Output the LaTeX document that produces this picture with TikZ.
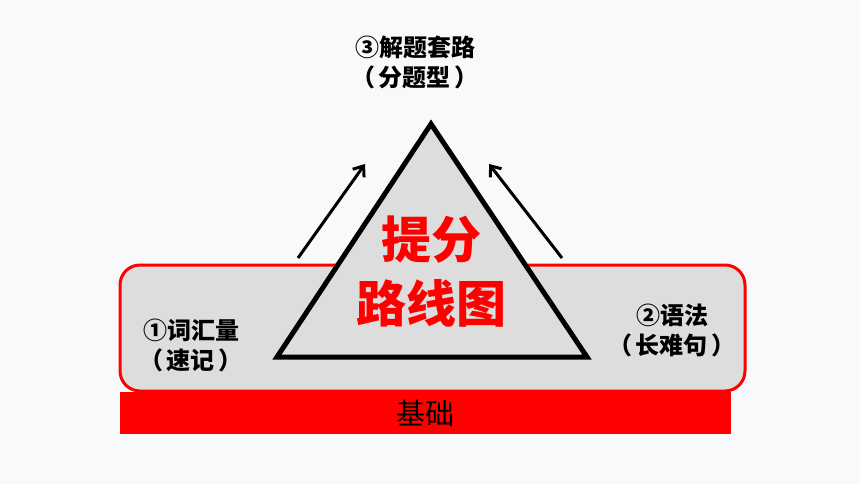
\documentclass[tikz,border=0pt]{standalone}
\usepackage{fontspec}
\usetikzlibrary{arrows.meta, positioning}
\newfontfamily\cjk{Noto Sans CJK SC}
\definecolor{mybg}{RGB}{248,249,250}
\definecolor{mygray}{RGB}{221,221,221}
\definecolor{myred}{RGB}{255,0,0}
\newcommand{\pgap}{\hspace{4pt}}

\begin{document}
\begin{tikzpicture}[x=1pt,y=-1pt,
    label/.style={align=center,font=\cjk\bfseries\fontsize{24}{30}\selectfont,inner sep=0pt},
    uparrow/.style={-{Straight Barb[length=9pt,width=14pt,line width=3pt]},line width=3pt}]
    % canvas
    \fill[mybg] (0,0) rectangle (860,484);
    \useasboundingbox (0,0) rectangle (860,484);
    % base bar and platform
    \node[fill=myred,minimum width=611pt,minimum height=42pt,inner sep=0pt,anchor=north west,
          font=\cjk\fontsize{29}{30}\selectfont] (base) at (120,392) {基础};
    \draw[myred,line width=3pt,fill=mygray,rounded corners=20pt] (120,265) rectangle (745,391);
    % triangle
    \coordinate (top) at (431,124);
    \coordinate (left) at (277,357);
    \coordinate (right) at (587,357);
    \draw[line width=5pt,fill=mygray,line join=miter] (left) -- (top) -- (right) -- cycle;
    % arrows
    \coordinate (la) at (298,258);
    \coordinate (lb) at (365,164);
    \coordinate (ra) at (562,258);
    \coordinate (rb) at (489,164);
    \draw[uparrow] (la) -- (lb);
    \draw[uparrow] (ra) -- (rb);
    % labels
    \node[label] (goal) at (415,62) {③解题套路\\（\pgap 分题型\pgap ）};
    \node[label] (vocab) at (191,345) {①词汇量\\（\pgap 速记\pgap ）};
    \node[label] (grammar) at (672,330) {②语法\\（\pgap 长难句\pgap ）};
    \node[label,text=myred,font=\cjk\bfseries\fontsize{50}{64}\selectfont] (core) at (431,272) {提分\\路线图};
\end{tikzpicture}
\end{document}
